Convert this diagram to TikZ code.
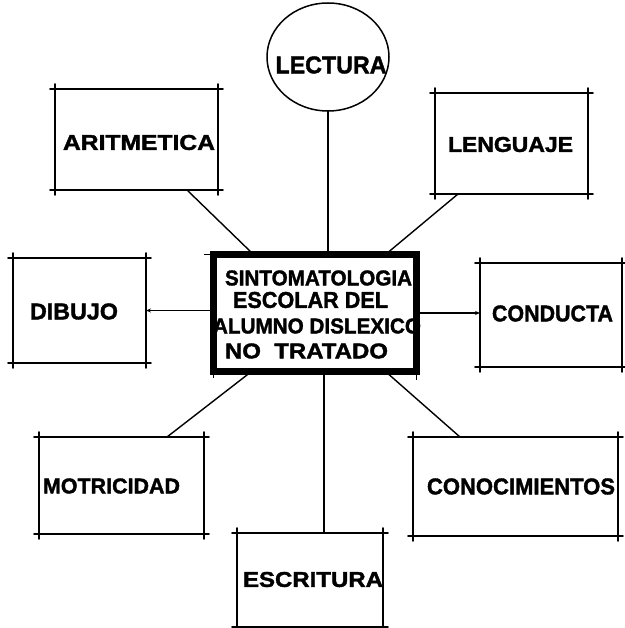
\documentclass[tikz,border=0pt]{standalone}
\usepackage{fontspec}
\setmainfont{Liberation Sans}
\newfontfamily\heavy[FakeBold=1.6]{Liberation Sans Bold}
\usetikzlibrary{arrows.meta,shapes.geometric}
\newcommand{\fitt}[3]{\resizebox{#1pt}{#2pt}{\heavy #3}}
\begin{document}
\begin{tikzpicture}[x=1pt,y=-1pt,
  boxshape/.style={rectangle, inner sep=0pt, outer sep=0pt},
  boxline/.style={line width=1.6pt, line cap=round},
  conn/.style={line width=1.4pt},
  tip/.style={-{Stealth[length=5pt,width=4pt]}},
  lbl/.style={inner sep=0pt, outer sep=0pt}]
\useasboundingbox[fill=white] (0,0) rectangle (624,628);

% outer boxes (shapes only)
\node[boxshape, minimum width=163pt, minimum height=101pt] (arit) at (136.5,139.5) {};
\node[boxshape, minimum width=153pt, minimum height=101pt] (leng) at (511.5,143.5) {};
\node[boxshape, minimum width=133pt, minimum height=105pt] (dib) at (79.5,310.5) {};
\node[boxshape, minimum width=142pt, minimum height=104pt] (cond) at (551,315) {};
\node[boxshape, minimum width=165pt, minimum height=97pt] (motr) at (121.5,485.5) {};
\node[boxshape, minimum width=205pt, minimum height=99pt] (conoc) at (515.5,486.5) {};
\node[boxshape, minimum width=146pt, minimum height=94pt] (escr) at (310,580) {};

\foreach \n in {arit,leng,dib,cond,motr,conoc,escr} {
  \draw[boxline] ([xshift=-5pt]\n.north west) -- ([xshift=5pt]\n.north east);
  \draw[boxline] ([xshift=-5pt]\n.south west) -- ([xshift=5pt]\n.south east);
  \draw[boxline] ([yshift=5pt]\n.north west) -- ([yshift=-5pt]\n.south west);
  \draw[boxline] ([yshift=5pt]\n.north east) -- ([yshift=-5pt]\n.south east);
}

% labels
\node[lbl] (aritT) at (139,142.5) {\fitt{152}{15}{ARITMETICA}};
\node[lbl] (lengT) at (510.5,144.5) {\fitt{125}{15}{LENGUAJE}};
\node[lbl] (dibT) at (74,311.5) {\fitt{88}{16}{DIBUJO}};
\node[lbl] (condT) at (552.5,313.5) {\fitt{121}{16}{CONDUCTA}};
\node[lbl] (motrT) at (111.5,486) {\fitt{137}{15}{MOTRICIDAD}};
\node[lbl] (conocT) at (521,486.5) {\fitt{188}{16}{CONOCIMIENTOS}};
\node[lbl] (escrT) at (313,579.5) {\fitt{140}{15}{ESCRITURA}};

% LECTURA circle
\node[ellipse, draw, line width=1.5pt, minimum width=122pt, minimum height=108pt, inner sep=0pt, outer sep=0pt] (lect) at (328,57) {};
\node[lbl] (lectT) at (331,65) {\fitt{111}{17}{LECTURA}};

% central text
\node[lbl] (c1) at (318.5,278) {\fitt{187}{15}{SINTOMATOLOGIA}};
\node[lbl] (c2) at (310.5,300) {\fitt{155}{16}{ESCOLAR DEL}};
\node[lbl] (c3) at (317,326) {\fitt{208}{15}{ALUMNO DISLEXICO}};
\node[lbl] (c4) at (306.5,351) {\fitt{163}{15}{NO\ \ TRATADO}};

% central box
\node[draw, line width=6.5pt, minimum width=203pt, minimum height=117pt, inner sep=0pt, outer sep=0pt] (c) at (315,313) {};
\draw[line width=1.2pt] ([xshift=-10pt]c.north west) -- (c.north west);
\draw[line width=1.2pt] (c.south east) -- ([yshift=-8pt]c.south east);
\draw[line width=1.2pt] (c.south west) -- ([yshift=-6pt]c.south west);

% connectors
\draw[conn] (lect.south) -- (lect.south |- c.north);
\draw[conn] ([xshift=132pt]arit.south west) -- ([xshift=40pt]c.north west);
\draw[conn] ([xshift=23pt]leng.south west) -- ([xshift=-31pt]c.north east);
\draw[conn,tip] (c.west |- dib.east) -- (dib.east);
\draw[conn,tip] (c.east) -- (c.east -| cond.west);
\draw[conn] ([xshift=128pt]motr.north west) -- ([xshift=38pt]c.south west);
\draw[conn] ([xshift=47pt]conoc.north west) -- ([xshift=-31pt]c.south east);
\coordinate (eTop) at ([xshift=14pt]escr.north);
\draw[conn] (eTop) -- (eTop |- c.south);
\end{tikzpicture}
\end{document}
